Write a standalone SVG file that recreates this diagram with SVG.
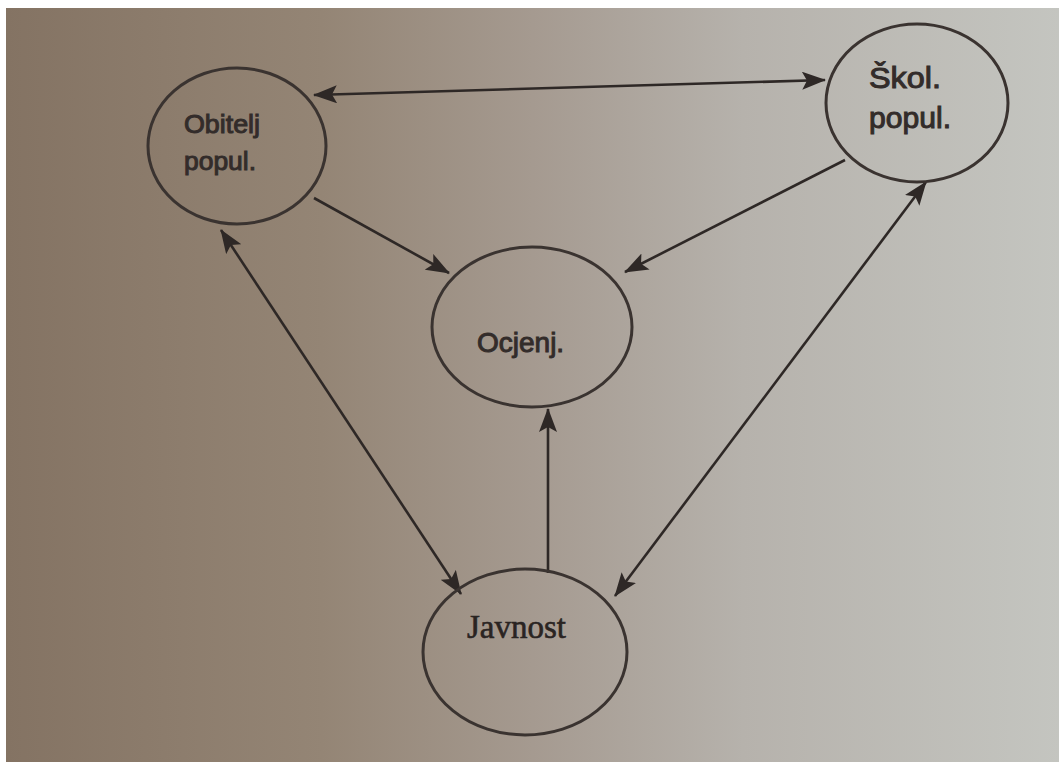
<svg xmlns="http://www.w3.org/2000/svg" width="1059" height="762" viewBox="0 0 1059 762">
<defs>
<linearGradient id="paper" x1="0" y1="0" x2="1" y2="0">
<stop offset="0" stop-color="#847363"/>
<stop offset="0.3" stop-color="#948575"/>
<stop offset="0.5" stop-color="#a59a90"/>
<stop offset="0.7" stop-color="#b6b2ac"/>
<stop offset="1" stop-color="#c4c5c0"/>
</linearGradient>
<marker id="arrow" viewBox="0 0 24 18" markerWidth="24" markerHeight="18" refX="23" refY="9" orient="auto-start-reverse" markerUnits="userSpaceOnUse">
<path d="M0,0 L24,9 L0,18 L5,9 z" fill="#2e2826"/>
</marker>
<style>
.node ellipse { fill: none; stroke: #3a3330; stroke-width: 3; }
.sans { font-family: "Liberation Sans", Arial, sans-serif; fill: #332c2a; stroke: #332c2a; stroke-width: 1; }
.serif { font-family: "Liberation Serif", "Times New Roman", serif; fill: #2a2422; stroke: #2a2422; stroke-width: 0.6; }
.conn line { stroke: #2e2826; stroke-width: 2.6; }
</style>
</defs>
<rect x="0" y="0" width="1059" height="762" fill="#ffffff"/>
<rect x="6" y="8" width="1053" height="754" fill="url(#paper)"/>

<g id="connectors" class="conn">
<line x1="314" y1="95" x2="825" y2="80" marker-start="url(#arrow)" marker-end="url(#arrow)"/>
<line x1="314" y1="198" x2="449" y2="273" marker-end="url(#arrow)"/>
<line x1="845" y1="160" x2="625" y2="272" marker-end="url(#arrow)"/>
<line x1="615" y1="596" x2="926" y2="182" marker-start="url(#arrow)" marker-end="url(#arrow)"/>
<line x1="221" y1="230" x2="461" y2="594" marker-start="url(#arrow)" marker-end="url(#arrow)"/>
<line x1="548" y1="573" x2="548" y2="409" marker-end="url(#arrow)"/>
</g>

<g id="obitelj" class="node">
<ellipse cx="237" cy="146" rx="89" ry="78"/>
<text class="sans" x="184" y="133" font-size="26" textLength="76" lengthAdjust="spacingAndGlyphs">Obitelj</text>
<text class="sans" x="184" y="170" font-size="26" textLength="72" lengthAdjust="spacingAndGlyphs">popul.</text>
</g>

<g id="skol" class="node">
<ellipse cx="917" cy="103" rx="91" ry="79"/>
<text class="sans" x="869" y="88" font-size="29" textLength="72" lengthAdjust="spacingAndGlyphs">Škol.</text>
<text class="sans" x="869" y="128" font-size="29" textLength="82" lengthAdjust="spacingAndGlyphs">popul.</text>
</g>

<g id="ocjenj" class="node">
<ellipse cx="532" cy="327" rx="100" ry="80"/>
<text class="sans" x="477" y="352" font-size="28">Ocjenj.</text>
</g>

<g id="javnost" class="node">
<ellipse cx="525" cy="652" rx="102" ry="83"/>
<text class="serif" x="467" y="638" font-size="33">Javnost</text>
</g>
</svg>
